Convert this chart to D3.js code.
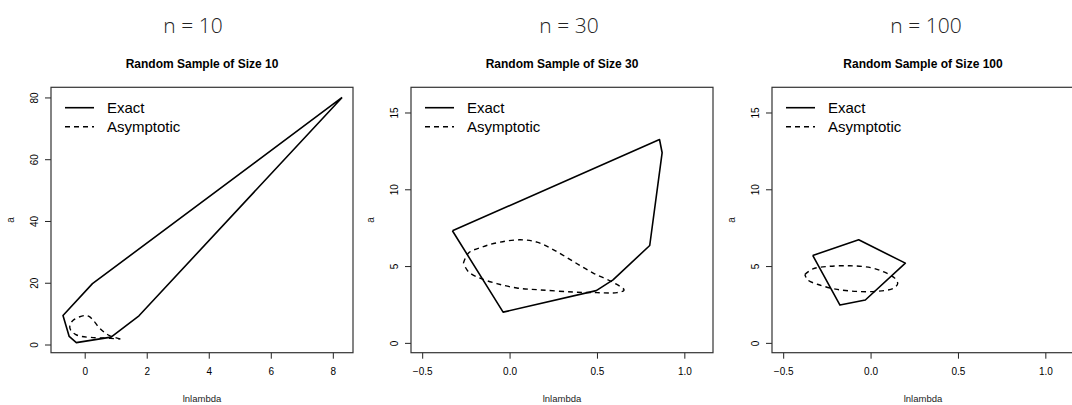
<!DOCTYPE html>
<html><head><meta charset="utf-8">
<script src="https://cdn.jsdelivr.net/npm/d3@7"></script>
<style>
html,body{margin:0;padding:0;background:#fff;}
svg{display:block;}
text{font-family:"Liberation Sans",Arial,Helvetica,sans-serif;fill:#000;}
</style></head><body>
<svg id="c" width="1072" height="405"></svg>
<script>
// ---------- data ----------
const headers = ["n = 10", "n = 30", "n = 100"];
const titles = ["Random Sample of Size 10", "Random Sample of Size 30", "Random Sample of Size 100"];
const xLabel = "lnlambda";
const yLabel = "a";
const legendLabels = ["Exact", "Asymptotic"];

// Exact confidence region (lnlambda, a)
const exact10 = [[8.3,80],[0.25,19.7],[-0.7,9.4],[-0.5,2.6],[-0.27,0.6],[0.85,2.4],[1.75,9.3],[8.3,80]];
const exact30 = [[-0.327,7.3],[0.858,13.24],[0.873,12.38],[0.802,6.34],[0.592,4.1],[0.496,3.4],[-0.037,2.0],[-0.327,7.3]];
const exact100 = [[-0.331,5.69],[-0.068,6.71],[0.199,5.19],[-0.03,2.79],[-0.175,2.46],[-0.331,5.69]];

// Asymptotic confidence region (lnlambda, a)
const asym10 = [[1.15,1.8],[0.8,2.9],[0.6,4.2],[0.42,6.0],[0.28,7.8],[0.15,9.0],[0.02,9.4],[-0.18,8.9],[-0.38,7.8],[-0.48,6.2],[-0.45,4.6],[-0.3,3.3],[-0.1,2.6],[0.2,2.3],[0.6,2.1],[1.15,1.8]];
const asym30 = [[-0.264,5.19],[-0.236,5.84],[-0.15,6.27],[-0.054,6.56],[0.061,6.71],[0.157,6.56],[0.252,6.06],[0.366,5.29],[0.481,4.53],[0.596,3.92],[0.655,3.44],[0.615,3.27],[0.5,3.27],[0.366,3.31],[0.175,3.45],[0.042,3.57],[-0.073,3.86],[-0.169,4.21],[-0.236,4.64],[-0.264,5.19]];
const asym100 = [[-0.376,4.45],[-0.33,4.82],[-0.24,4.98],[-0.12,5.02],[0.0,4.9],[0.08,4.6],[0.14,4.2],[0.155,3.85],[0.13,3.55],[0.04,3.36],[-0.08,3.35],[-0.2,3.5],[-0.3,3.8],[-0.36,4.1],[-0.376,4.45]];

// axis data limits (before R-style 4% expansion) and ticks
const xLims = [[-0.726, 8.29], [-0.5, 1.1], [-0.5, 1.1]];
const yLims = [[0.53, 80.1], [0, 16], [0, 16]];
const xTicks10 = [0, 2, 4, 6, 8];
const yTicks10 = [0, 20, 40, 60, 80];
const xTicks = [-0.5, 0, 0.5, 1.0];
const yTicks = [0, 5, 10, 15];

// ---------- drawing ----------
const svg = d3.select("#c");
const panels = [
  {exact: exact10, asym: asym10, xt: xTicks10, yt: yTicks10},
  {exact: exact30, asym: asym30, xt: xTicks, yt: yTicks},
  {exact: exact100, asym: asym100, xt: xTicks, yt: yTicks}
];
const boxLeft = [51, 411, 772];
const headerX = [193, 569, 926];
const boxW = 302, boxTop = 87.3, boxBot = 352.7;

function expand(l) { const e = (l[1]-l[0])*0.04; return [l[0]-e, l[1]+e]; }

panels.forEach((p, i) => {
  const L = boxLeft[i], R = L + boxW;
  const x = d3.scaleLinear().domain(expand(xLims[i])).range([L, R]);
  const y = d3.scaleLinear().domain(expand(yLims[i])).range([boxBot, boxTop]);
  const g = svg.append("g");

  // header
  svg.append("text").attr("x", headerX[i]).attr("y", 32.5).attr("text-anchor", "middle")
    .style("font-family", "'Open Sans', Lato, sans-serif").style("font-weight", 300)
    .style("font-size", "21px").style("fill", "#222").text(headers[i]);

  // title
  g.append("text").attr("x", (L+R)/2).attr("y", 68).attr("text-anchor", "middle")
    .style("font-weight", "bold").style("font-size", "12px").text(titles[i]);

  // axes
  const xa = g.append("g").attr("transform", `translate(0,${boxBot})`)
    .call(d3.axisBottom(x).tickValues(p.xt).tickSize(6).tickPadding(9).tickFormat(i === 0 ? d3.format("d") : d3.format(".1f")));
  xa.select(".domain").remove();
  xa.selectAll("text").style("font-size", "10px").style("font-family", "'Liberation Sans',Arial,sans-serif").attr("fill", "#222");
  xa.selectAll("line").attr("stroke", "#222");

  const ya = g.append("g").attr("transform", `translate(${L},0)`)
    .call(d3.axisLeft(y).tickValues(p.yt).tickSize(6).tickFormat(d3.format("d")));
  ya.select(".domain").remove();
  ya.selectAll("line").attr("stroke", "#222");
  ya.selectAll("text").attr("x", null).attr("dy", null)
    .attr("text-anchor", "middle")
    .attr("transform", "translate(-13,0) rotate(-90)")
    .style("font-size", "10px").style("font-family", "'Liberation Sans',Arial,sans-serif").attr("fill", "#222");

  // box
  g.append("rect").attr("x", L).attr("y", boxTop).attr("width", boxW).attr("height", boxBot - boxTop)
    .attr("fill", "none").attr("stroke", "#333").attr("stroke-width", 1.2);

  // axis titles
  g.append("text").attr("x", (L+R)/2).attr("y", 401.5).attr("text-anchor", "middle")
    .style("font-size", "9.5px").style("fill", "#222").text(xLabel);
  g.append("text").attr("transform", `translate(${L-37},${(boxTop+boxBot)/2}) rotate(-90)`)
    .attr("text-anchor", "middle").style("font-size", "10px").style("fill", "#222").text(yLabel);

  // curves
  const line = d3.line().x(d => x(d[0])).y(d => y(d[1]));
  g.append("path").attr("d", line(p.exact)).attr("fill", "none").attr("stroke", "#000")
    .attr("stroke-width", 1.6).attr("stroke-linejoin", "round");
  g.append("path").attr("d", d3.line().curve(d3.curveCatmullRom).x(d => x(d[0])).y(d => y(d[1]))(p.asym))
    .attr("fill", "none").attr("stroke", "#000")
    .attr("stroke-width", 1.4).attr("stroke-dasharray", "5,4");

  // legend
  const lg = g.append("g");
  legendLabels.forEach((lab, k) => {
    const yy = 107.7 + k * 19;
    lg.append("line").attr("x1", L + 14).attr("x2", L + 43).attr("y1", yy).attr("y2", yy)
      .attr("stroke", "#000").attr("stroke-width", k ? 1.4 : 1.6)
      .attr("stroke-dasharray", k ? "5,4" : null);
    lg.append("text").attr("x", L + 56).attr("y", yy + 5.5).style("font-size", "15px").text(lab);
  });
});
</script>
</body></html>
